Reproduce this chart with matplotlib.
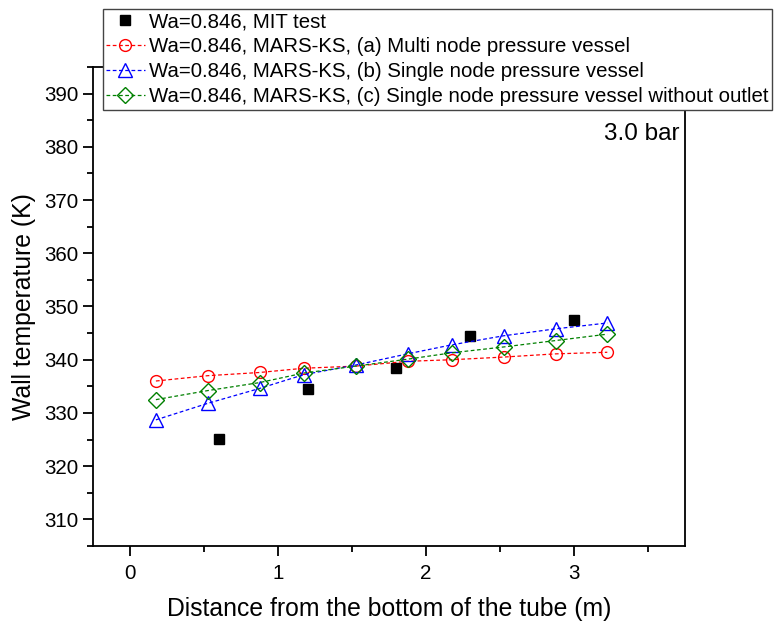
import matplotlib
matplotlib.use('Agg')
import matplotlib.pyplot as plt
from matplotlib.ticker import MultipleLocator

plt.rcParams['font.family'] = ['Liberation Sans', 'DejaVu Sans']

# measured data (MIT test)
x_test = [0.6, 1.2, 1.8, 2.3, 3.0]
t_test = [325.1, 334.5, 338.4, 344.5, 347.4]

# MARS-KS node positions
x_node = [0.175, 0.525, 0.875, 1.175, 1.525, 1.875, 2.175, 2.525, 2.875, 3.225]
t_multi = [336.0, 337.0, 337.6, 338.4, 338.8, 339.7, 340.0, 340.5, 341.1, 341.4]
t_single = [328.7, 331.8, 334.6, 337.2, 339.0, 341.1, 342.8, 344.5, 345.8, 346.9]
t_no_outlet = [332.5, 334.2, 335.7, 337.5, 338.8, 340.1, 341.3, 342.4, 343.6, 344.8]

labels = ['Wa=0.846, MIT test',
          'Wa=0.846, MARS-KS, (a) Multi node pressure vessel',
          'Wa=0.846, MARS-KS, (b) Single node pressure vessel',
          'Wa=0.846, MARS-KS, (c) Single node pressure vessel without outlet']

fig = plt.figure(figsize=(7.78, 6.24), dpi=100)
ax = fig.add_axes([93 / 778, 1 - 546 / 624, 592 / 778, 479 / 624])

ax.plot(x_test, t_test, 's', color='black', markersize=7.5, label=labels[0])
ax.plot(x_node, t_multi, '--o', color='red', lw=0.9, dashes=(3, 2),
        markersize=8.5, mfc='none', mew=1.0, label=labels[1])
ax.plot(x_node, t_single, '--^', color='blue', lw=0.9, dashes=(3, 2),
        markersize=9.5, mfc='none', mew=1.0, label=labels[2])
ax.plot(x_node, t_no_outlet, '--D', color='green', lw=0.9, dashes=(3, 2),
        markersize=8, mfc='none', mew=1.0, label=labels[3])

ax.set_xlim(-0.25, 3.75)
ax.set_ylim(305, 395)
ax.xaxis.set_major_locator(MultipleLocator(1))
ax.xaxis.set_minor_locator(MultipleLocator(0.5))
ax.yaxis.set_minor_locator(MultipleLocator(5))
ax.set_yticks(range(310, 395, 10))
ax.tick_params(which='major', direction='out', length=7, width=1.3, labelsize=14.8)
ax.tick_params(axis='x', which='major', pad=6)
ax.tick_params(which='minor', direction='out', length=4, width=1.3)
for s in ax.spines.values():
    s.set_linewidth(1.3)

ax.set_xlabel('Distance from the bottom of the tube (m)', fontsize=17.8, labelpad=10)
ax.set_ylabel('Wall temperature (K)', fontsize=17.8, labelpad=6)

ax.text(0.99, 0.86, '3.0 bar', transform=ax.transAxes, ha='right', va='center', fontsize=17.5)

leg = ax.legend(loc='upper left', bbox_to_anchor=(103 / 778, 1 - 9 / 624),
                bbox_transform=fig.transFigure, fontsize=14.7, frameon=True,
                fancybox=False, edgecolor='#444444', framealpha=1,
                handlelength=1.9, handletextpad=0.2, borderpad=0.15,
                borderaxespad=0, labelspacing=0.3)
leg.get_frame().set_linewidth(1.0)

fig.savefig('out.png', dpi=100)
